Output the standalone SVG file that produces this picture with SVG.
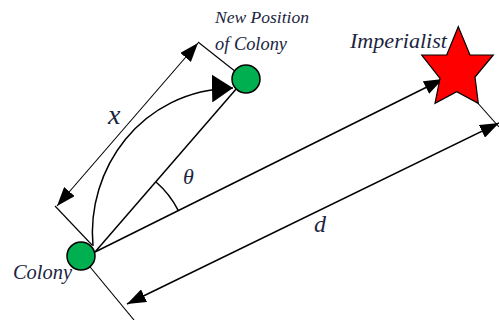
<svg xmlns="http://www.w3.org/2000/svg" width="499" height="320" viewBox="0 0 499 320">
  <defs>
    <marker id="ah" markerUnits="userSpaceOnUse" markerWidth="20" markerHeight="14" refX="19" refY="7" orient="auto-start-reverse">
      <path d="M0,0 L19,7 L0,14 z" fill="#000"/>
    </marker>
    <marker id="ahBig" markerUnits="userSpaceOnUse" markerWidth="22" markerHeight="28" refX="21" refY="14" orient="auto">
      <path d="M0,0 L21,14 L0,28 z" fill="#000"/>
    </marker>
  </defs>
  <rect width="499" height="320" fill="#fff"/>

  <g id="connectors" stroke="#000" fill="none">
    <g stroke-width="1.1">
      <line x1="198" y1="42" x2="236" y2="72"/>
      <line x1="55" y1="206" x2="92" y2="245"/>
      <line x1="81" y1="256" x2="134" y2="320"/>
      <line x1="468" y1="92" x2="499" y2="127"/>
      <line x1="198" y1="43" x2="57" y2="206" marker-start="url(#ah)" marker-end="url(#ah)"/>
    </g>
    <g stroke-width="1.5">
      <line x1="127" y1="304" x2="499" y2="123" marker-start="url(#ah)" marker-end="url(#ah)"/>
      <line x1="95" y1="252" x2="237" y2="88"/>
      <line x1="95" y1="252" x2="443" y2="79" marker-end="url(#ah)"/>
      <path d="M93,246 C86,170 140,90 233,88" marker-end="url(#ahBig)"/>
      <path d="M156,182 A93,93 0 0 1 178.2,210.4"/>
    </g>
  </g>

  <g font-family="Liberation Serif" font-style="italic" fill="#1b2440">
    <g id="colony">
      <circle cx="81" cy="256" r="14" fill="#00B050" stroke="#000" stroke-width="1.5"/>
      <text x="13" y="279" font-size="20" textLength="59" lengthAdjust="spacingAndGlyphs">Colony</text>
    </g>

    <g id="new-position">
      <circle cx="246" cy="79" r="14" fill="#00B050" stroke="#000" stroke-width="1.5"/>
      <text x="215" y="23" font-size="17" textLength="94" lengthAdjust="spacingAndGlyphs">New Position</text>
      <text x="215" y="50" font-size="18" textLength="72" lengthAdjust="spacingAndGlyphs">of Colony</text>
    </g>

    <g id="imperialist">
      <polygon points="458.3,26.7 470,55 493.3,55 475,77 478.3,103.3 456.7,91.7 435,103.3 440,78.3 421.7,55 446.7,55" fill="#FF0000" stroke="#000" stroke-width="1.2"/>
      <text x="350" y="48" font-size="21" textLength="97" lengthAdjust="spacingAndGlyphs">Imperialist</text>
    </g>

    <g id="labels">
      <text x="108" y="124" font-size="28">x</text>
      <text x="183" y="184" font-size="22">θ</text>
      <text x="314" y="232" font-size="24">d</text>
    </g>
  </g>
</svg>
